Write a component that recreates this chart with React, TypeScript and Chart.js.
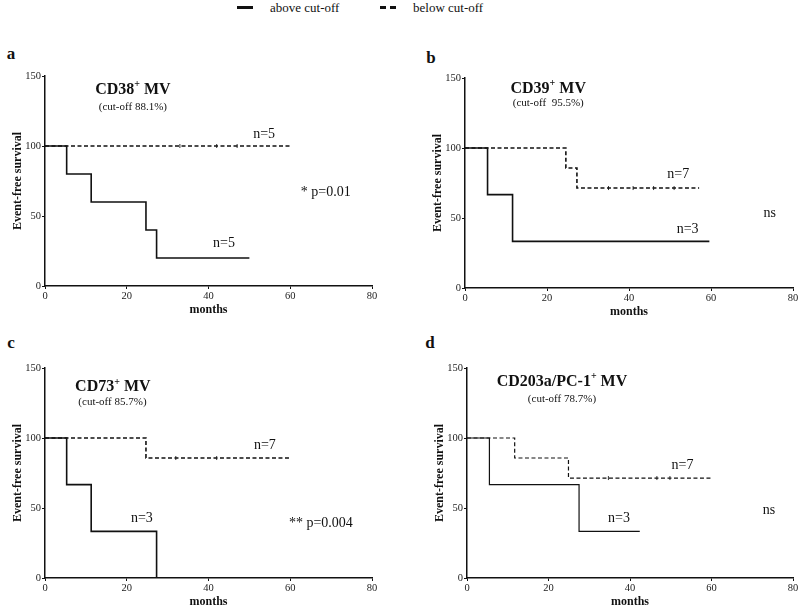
import React, { useEffect, useRef } from "react";
import { Chart, registerables } from "chart.js";

Chart.register(...registerables);

// ---- tick labels ----
const xTicks = [0, 20, 40, 60, 80];
const yTicks = [0, 50, 100, 150];

// ---- panel a: CD38+ MV ----
const aAboveT = [0, 5.3, 11.3, 24.7, 27.3, 50];
const aAboveS = [100, 80, 60, 40, 20, 20];
const aBelowT = [0, 60];
const aBelowS = [100, 100];
const aCensorT = [33, 42, 47];

// ---- panel b: CD39+ MV ----
const bAboveT = [0, 5.5, 11.6, 59.6];
const bAboveS = [100, 66.7, 33.3, 33.3];
const bBelowT = [0, 24.6, 27.3, 57.1];
const bBelowS = [100, 85.7, 71.4, 71.4];
const bCensorT = [35, 41, 46, 51];

// ---- panel c: CD73+ MV ----
const cAboveT = [0, 5.3, 11.3, 27.3];
const cAboveS = [100, 66.7, 33.3, 0];
const cBelowT = [0, 24.7, 59.7];
const cBelowS = [100, 85.7, 85.7];
const cCensorT = [32, 42];

// ---- panel d: CD203a/PC-1+ MV ----
const dAboveT = [0, 5.5, 27.5, 42.4];
const dAboveS = [100, 66.7, 33.3, 33.3];
const dBelowT = [0, 11.7, 24.9, 59.8];
const dBelowS = [100, 85.7, 71.4, 71.4];
const dCensorT = [34.7, 46.6, 49.8];

const SERIF = "'Liberation Serif', 'Times New Roman', serif";

type Part = { t: string; sup?: boolean };
type Note = { x: number; y: number; parts: Part[]; size: number; bold?: boolean };

function toPts(t: number[], s: number[]) {
  return t.map((x, i) => ({ x, y: s[i] }));
}
function stepVal(t: number[], s: number[], x: number) {
  let v = s[0];
  for (let i = 0; i < t.length; i++) if (t[i] <= x) v = s[i];
  return v;
}

type PanelDef = {
  left: number; top: number; width: number; height: number;
  yW: number; padR: number; padT: number; xH: number;
  lw: number;
  aboveT: number[]; aboveS: number[]; belowT: number[]; belowS: number[]; censorT: number[];
  notes: Note[];
};

const panels: PanelDef[] = [
  {
    left: 0, top: 30, width: 400, height: 290, yW: 45, padR: 28, padT: 46, xH: 34, lw: 1.6,
    aboveT: aAboveT, aboveS: aAboveS, belowT: aBelowT, belowS: aBelowS, censorT: aCensorT,
    notes: [
      { x: 21.5, y: 140, parts: [{ t: "CD38" }, { t: "+", sup: true }, { t: " MV" }], size: 16, bold: true },
      { x: 21.5, y: 128, parts: [{ t: "(cut-off 88.1%)" }], size: 11 },
      { x: 53.6, y: 108, parts: [{ t: "n=5" }], size: 14 },
      { x: 43.8, y: 30.7, parts: [{ t: "n=5" }], size: 14 },
      { x: 68.7, y: 67, parts: [{ t: "* p=0.01" }], size: 14 },
    ],
  },
  {
    left: 400, top: 30, width: 400, height: 290, yW: 65, padR: 7, padT: 48, xH: 32, lw: 1.6,
    aboveT: bAboveT, aboveS: bAboveS, belowT: bBelowT, belowS: bBelowS, censorT: bCensorT,
    notes: [
      { x: 20.3, y: 142.3, parts: [{ t: "CD39" }, { t: "+", sup: true }, { t: " MV" }], size: 16, bold: true },
      { x: 20.3, y: 132.4, parts: [{ t: "(cut-off  95.5%)" }], size: 11 },
      { x: 52, y: 81, parts: [{ t: "n=7" }], size: 14 },
      { x: 54.3, y: 42, parts: [{ t: "n=3" }], size: 14 },
      { x: 74.3, y: 53.4, parts: [{ t: "ns" }], size: 14 },
    ],
  },
  {
    left: 0, top: 320, width: 400, height: 287, yW: 45, padR: 28, padT: 48, xH: 29, lw: 1.6,
    aboveT: cAboveT, aboveS: cAboveS, belowT: cBelowT, belowS: cBelowS, censorT: cCensorT,
    notes: [
      { x: 16.6, y: 136.2, parts: [{ t: "CD73" }, { t: "+", sup: true }, { t: " MV" }], size: 16, bold: true },
      { x: 16.5, y: 125.5, parts: [{ t: "(cut-off 85.7%)" }], size: 11 },
      { x: 53.8, y: 94.8, parts: [{ t: "n=7" }], size: 14 },
      { x: 23.7, y: 42.6, parts: [{ t: "n=3" }], size: 14 },
      { x: 67.5, y: 39.3, parts: [{ t: "** p=0.004" }], size: 14 },
    ],
  },
  {
    left: 400, top: 320, width: 400, height: 287, yW: 67, padR: 7, padT: 48, xH: 29, lw: 1.2,
    aboveT: dAboveT, aboveS: dAboveS, belowT: dBelowT, belowS: dBelowS, censorT: dCensorT,
    notes: [
      { x: 23.3, y: 140.2, parts: [{ t: "CD203a/PC-1" }, { t: "+", sup: true }, { t: " MV" }], size: 16, bold: true },
      { x: 23.3, y: 128, parts: [{ t: "(cut-off 78.7%)" }], size: 11 },
      { x: 52.9, y: 80.4, parts: [{ t: "n=7" }], size: 14 },
      { x: 37.3, y: 42.4, parts: [{ t: "n=3" }], size: 14 },
      { x: 74.1, y: 48.3, parts: [{ t: "ns" }], size: 14 },
    ],
  },
];

const textPlugin = {
  id: "kmText",
  afterDraw(chart: any) {
    const ctx = chart.ctx as CanvasRenderingContext2D;
    const notes: Note[] = chart.options.plugins.kmText.notes;
    const xs = chart.scales.x, ys = chart.scales.y;
    const area = chart.chartArea;
    ctx.save();
    ctx.fillStyle = "#111";
    ctx.textBaseline = "middle";
    ctx.textAlign = "left";
    for (const n of notes) {
      const px = xs.getPixelForValue(n.x);
      const py = ys.getPixelForValue(n.y);
      const w = n.bold ? "bold " : "";
      const fMain = `${w}${n.size}px ${SERIF}`;
      const fSup = `${w}${Math.round(n.size * 0.62)}px ${SERIF}`;
      let total = 0;
      const widths = n.parts.map((p) => {
        ctx.font = p.sup ? fSup : fMain;
        const m = ctx.measureText(p.t).width;
        total += m;
        return m;
      });
      let cx = px - total / 2;
      n.parts.forEach((p, i) => {
        ctx.font = p.sup ? fSup : fMain;
        ctx.fillText(p.t, cx, p.sup ? py - n.size * 0.32 : py);
        cx += widths[i];
      });
    }
    // axis titles
    ctx.font = `bold 12px ${SERIF}`;
    ctx.textAlign = "center";
    ctx.fillText("months", (area.left + area.right) / 2, area.bottom + 24);
    ctx.translate(area.left - 27, (area.top + area.bottom) / 2);
    ctx.rotate(-Math.PI / 2);
    ctx.fillText("Event-free survival", 0, 0);
    ctx.restore();
  },
};

function Panel({ def }: { def: PanelDef }) {
  const ref = useRef<HTMLCanvasElement>(null);
  useEffect(() => {
    const canvas = ref.current!;
    const tickFont = { family: SERIF, size: 10.5 };
    const censorPts = def.censorT.map((x) => ({ x, y: stepVal(def.belowT, def.belowS, x) }));
    const chart = new Chart(canvas, {
      type: "line",
      data: {
        datasets: [
          {
            label: "above cut-off",
            data: toPts(def.aboveT, def.aboveS),
            stepped: "before",
            borderColor: "#111",
            borderWidth: def.lw,
            pointRadius: 0,
            fill: false,
          },
          {
            label: "below cut-off",
            data: toPts(def.belowT, def.belowS),
            stepped: "before",
            borderColor: "#111",
            borderWidth: def.lw,
            borderDash: [4, 2.5],
            pointRadius: 0,
            fill: false,
          },
          {
            label: "censored",
            data: censorPts,
            showLine: false,
            pointStyle: "line",
            rotation: 90,
            pointRadius: 2,
            borderColor: "#333",
            pointBorderWidth: 1,
          } as any,
        ],
      },
      options: {
        responsive: false,
        maintainAspectRatio: false,
        animation: false,
        devicePixelRatio: 1,
        layout: { padding: { left: 0, right: def.padR, top: def.padT, bottom: 0 } },
        plugins: {
          legend: { display: false },
          tooltip: { enabled: false },
          kmText: { notes: def.notes },
        } as any,
        scales: {
          x: {
            type: "linear",
            min: 0,
            max: 80,
            afterBuildTicks: (s: any) => { s.ticks = xTicks.map((v) => ({ value: v })); },
            afterFit: (s: any) => { s.height = def.xH; },
            ticks: { font: tickFont, color: "#222", padding: 1, maxRotation: 0, autoSkip: false },
            grid: { drawOnChartArea: false, drawTicks: true, tickLength: 3, color: "#111", lineWidth: 1 },
            border: { color: "#111", width: 1.5 },
          },
          y: {
            type: "linear",
            min: 0,
            max: 150,
            afterBuildTicks: (s: any) => { s.ticks = yTicks.map((v) => ({ value: v })); },
            afterFit: (s: any) => { s.width = def.yW; },
            ticks: { font: tickFont, color: "#222", padding: 1, autoSkip: false },
            grid: { drawOnChartArea: false, drawTicks: true, tickLength: 3, color: "#111", lineWidth: 1 },
            border: { color: "#111", width: 1.5 },
          },
        },
      } as any,
      plugins: [textPlugin],
    });
    return () => chart.destroy();
  }, [def]);
  return (
    <canvas
      ref={ref}
      width={def.width}
      height={def.height}
      style={{ position: "absolute", left: def.left, top: def.top, width: def.width, height: def.height }}
    />
  );
}

const letters = [
  { t: "a", x: 11, y: 53 },
  { t: "b", x: 431, y: 57 },
  { t: "c", x: 11, y: 342 },
  { t: "d", x: 430, y: 342 },
];

export default function App() {
  const txt: React.CSSProperties = {
    position: "absolute",
    fontFamily: SERIF,
    color: "#111",
    whiteSpace: "nowrap",
    lineHeight: "1",
  };
  return (
    <div style={{ position: "absolute", left: 0, top: 0, width: 800, height: 607, background: "#fff", overflow: "hidden" }}>
      {/* legend */}
      <div style={{ position: "absolute", left: 237, top: 6, width: 16, height: 3, background: "#111" }} />
      <div style={{ ...txt, left: 270, top: 7, fontSize: 13, transform: "translateY(-50%)" }}>above cut-off</div>
      <div style={{ position: "absolute", left: 380, top: 6, width: 6, height: 3, background: "#111" }} />
      <div style={{ position: "absolute", left: 390, top: 6, width: 6, height: 3, background: "#111" }} />
      <div style={{ ...txt, left: 413, top: 7, fontSize: 13, transform: "translateY(-50%)" }}>below cut-off</div>
      {letters.map((l) => (
        <div
          key={l.t}
          style={{ ...txt, left: l.x, top: l.y, fontSize: 17, fontWeight: "bold", transform: "translate(-50%, -50%)" }}
        >
          {l.t}
        </div>
      ))}
      {panels.map((p, i) => (
        <Panel key={i} def={p} />
      ))}
    </div>
  );
}
